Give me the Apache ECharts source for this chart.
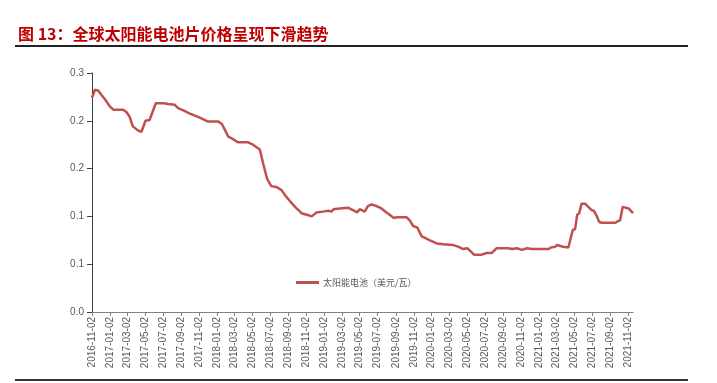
<!DOCTYPE html>
<html><head><meta charset="utf-8">
<script src="https://cdn.jsdelivr.net/npm/echarts@6/dist/echarts.min.js"></script>
<style>html,body{margin:0;padding:0;background:#fff}#c{width:717px;height:383px}</style>
</head><body><div id="c"></div>
<script>
const titleText = '图 13：全球太阳能电池片价格呈现下滑趋势';
const seriesName = '太阳能电池（美元/瓦）';
const axisStart = '2016-11-02';
const axisEnd = '2021-11-17';
const xTickLabels = ['2016-11-02','2017-01-02','2017-03-02','2017-05-02','2017-07-02','2017-09-02','2017-11-02',
 '2018-01-02','2018-03-02','2018-05-02','2018-07-02','2018-09-02','2018-11-02',
 '2019-01-02','2019-03-02','2019-05-02','2019-07-02','2019-09-02','2019-11-02',
 '2020-01-02','2020-03-02','2020-05-02','2020-07-02','2020-09-02','2020-11-02',
 '2021-01-02','2021-03-02','2021-05-02','2021-07-02','2021-09-02','2021-11-02'];
const yTickLabels = ['0.0','0.1','0.1','0.2','0.2','0.3'];
const dates = ['2016-11-02','2016-11-12','2016-11-23','2016-12-05','2016-12-16','2017-01-02','2017-01-14','2017-02-16','2017-02-27','2017-03-10',
 '2017-03-21','2017-04-07','2017-04-19','2017-05-03','2017-05-17','2017-06-07','2017-07-07','2017-07-18','2017-08-11','2017-08-22',
 '2017-09-09','2017-10-01','2017-11-04','2017-12-02','2018-01-06','2018-01-18','2018-01-29','2018-02-09','2018-02-25','2018-03-13',
 '2018-04-17','2018-05-04','2018-05-27','2018-06-07','2018-06-21','2018-07-05','2018-07-22','2018-08-09','2018-08-20','2018-09-07',
 '2018-09-24','2018-10-16','2018-11-03','2018-11-20','2018-12-06','2018-12-28','2019-01-15','2019-01-27','2019-02-02','2019-02-23',
 '2019-03-01','2019-03-23','2019-04-09','2019-04-23','2019-05-02','2019-05-19','2019-05-30','2019-06-11','2019-06-28','2019-07-15',
 '2019-08-01','2019-08-12','2019-08-26','2019-09-05','2019-10-08','2019-10-19','2019-10-31','2019-11-14','2019-11-29','2019-12-10',
 '2019-12-27','2020-01-19','2020-02-11','2020-03-15','2020-04-01','2020-04-18','2020-05-02','2020-05-11','2020-05-25','2020-06-20',
 '2020-07-07','2020-07-24','2020-08-10','2020-09-19','2020-10-01','2020-10-18','2020-11-04','2020-11-21','2020-12-08','2021-02-03',
 '2021-02-11','2021-02-25','2021-03-04','2021-03-24','2021-04-11','2021-04-26','2021-05-04','2021-05-11','2021-05-18','2021-05-26',
 '2021-06-07','2021-06-18','2021-06-29','2021-07-07','2021-07-16','2021-07-25','2021-08-03','2021-09-18','2021-09-26','2021-10-04',
 '2021-10-13','2021-10-19','2021-11-02','2021-11-17'];
const prices = [0.269,0.279,0.278,0.272,0.267,0.258,0.254,0.254,0.251,0.245,
 0.233,0.228,0.226,0.240,0.241,0.262,0.262,0.261,0.260,0.256,
 0.253,0.249,0.244,0.239,0.239,0.236,0.228,0.220,0.217,0.213,
 0.213,0.210,0.204,0.187,0.167,0.158,0.157,0.153,0.147,0.139,
 0.132,0.124,0.122,0.120,0.125,0.126,0.127,0.126,0.129,0.130,
 0.132,0.131,0.128,0.125,0.129,0.126,0.133,0.135,0.133,0.130,
 0.125,0.122,0.118,0.119,0.119,0.115,0.108,0.106,0.095,0.093,
 0.090,0.086,0.085,0.084,0.082,0.079,0.080,0.077,0.072,0.072,
 0.074,0.074,0.080,0.080,0.079,0.080,0.078,0.080,0.079,0.079,
 0.081,0.082,0.084,0.082,0.081,0.103,0.104,0.122,0.124,0.136,
 0.136,0.132,0.128,0.127,0.121,0.113,0.112,0.112,0.114,0.115,
 0.132,0.133,0.130,0.124];

function fmt(d){const m=d.getUTCMonth()+1, dd=d.getUTCDate();return d.getUTCFullYear()+'-'+(m<10?'0':'')+m+'-'+(dd<10?'0':'')+dd;}
const categories=[];
for(let t=Date.parse(axisStart+'T00:00:00Z'); t<=Date.parse(axisEnd+'T00:00:00Z'); t+=86400000){categories.push(fmt(new Date(t)));}
const tickSet=new Set(xTickLabels);
const idxOf={}; categories.forEach((c,i)=>idxOf[c]=i);
const seriesData=dates.map((d,i)=>[idxOf[d],prices[i]]);

const chart=echarts.init(document.getElementById('c'),null,{renderer:'canvas'});
const lbl='"Liberation Sans", Arial, sans-serif';
chart.setOption({
  animation:false,
  backgroundColor:'#fff',
  title:{text:titleText,left:13,top:21,textStyle:{fontSize:16,fontWeight:'bold',color:'#C00000',fontFamily:'"Noto Sans CJK SC", sans-serif'}},
  graphic:[
    {type:'line',shape:{x1:15,y1:46,x2:688,y2:46},style:{stroke:'#222',lineWidth:2}},
    {type:'line',shape:{x1:15,y1:380,x2:688,y2:380},style:{stroke:'#333',lineWidth:2}}
  ],
  legend:{left:291,top:273,itemWidth:23,itemHeight:3,itemGap:4,icon:'rect',
    textStyle:{fontSize:9,color:'#595959',fontFamily:'"Noto Sans CJK SC", sans-serif',padding:[0,0,0,-1]},
    data:[seriesName]},
  grid:{left:92,top:73,right:84,bottom:71,containLabel:false},
  xAxis:{type:'category',data:categories,boundaryGap:false,
    axisLine:{lineStyle:{color:'#808080',width:1}},
    axisTick:{show:true,length:4,interval:(i,v)=>tickSet.has(v),lineStyle:{color:'#808080'}},
    axisLabel:{interval:(i,v)=>tickSet.has(v),rotate:90,margin:5,fontSize:10,color:'#595959',fontFamily:lbl},
    splitLine:{show:false}},
  yAxis:{type:'value',min:0,max:0.3,interval:0.06,
    axisLine:{show:true,lineStyle:{color:'#404040',width:1}},
    axisTick:{show:true,length:5,lineStyle:{color:'#404040'}},
    axisLabel:{fontSize:10,color:'#595959',margin:8,fontFamily:lbl,formatter:v=>yTickLabels[Math.round(v/0.06)]},
    splitLine:{show:false}},
  series:[{name:seriesName,type:'line',data:seriesData,symbol:'none',smooth:false,
    lineStyle:{color:'#C0504D',width:2.5},itemStyle:{color:'#C0504D'}}]
});
</script></body></html>
